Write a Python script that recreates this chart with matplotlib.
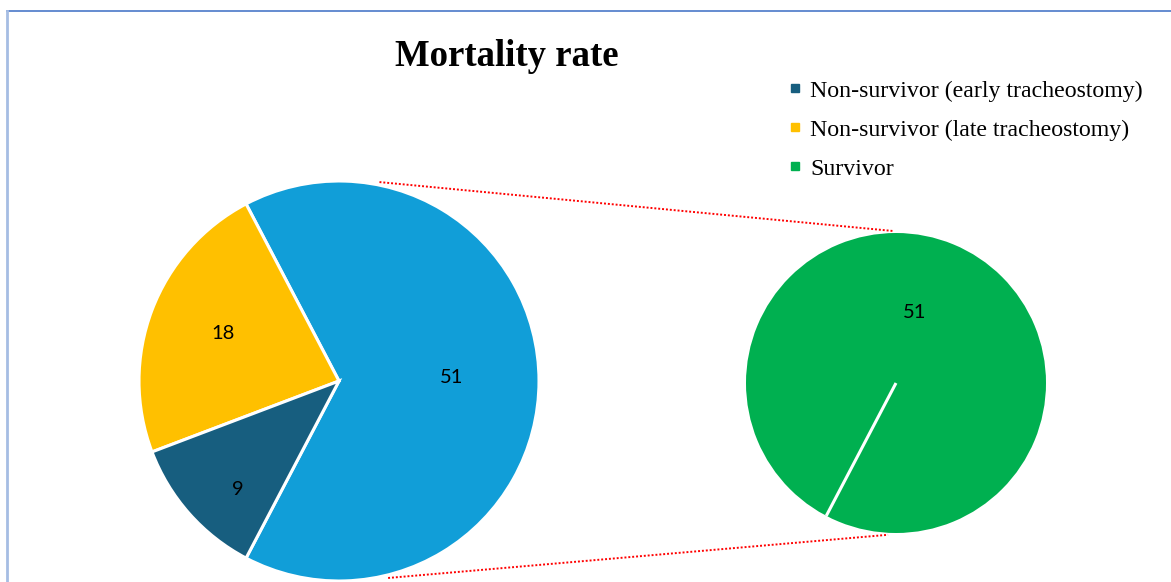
import numpy as np
import matplotlib
matplotlib.use("Agg")
import matplotlib.pyplot as plt
from matplotlib.lines import Line2D

# ---- data ----
main_values = [51, 18, 9]
main_labels = ["51", "18", "9"]
main_colors = ["#119ed8", "#ffc000", "#175e7f"]
sub_values = [51]
sub_labels = ["51"]
sub_colors = ["#00b050"]
legend_labels = ["Non-survivor (early tracheostomy)",
                 "Non-survivor (late tracheostomy)",
                 "Survivor"]
legend_colors = ["#175e7f", "#ffc000", "#00b050"]
title = "Mortality rate"

W, H = 1171, 582
fig = plt.figure(figsize=(W / 100, H / 100), dpi=100)
ax = fig.add_axes([0, 0, 1, 1])

serif = ["Liberation Serif", "DejaVu Serif"]
lblfont = ["Lato", "DejaVu Sans"]

# main pie
c1 = (339, H - 381)
r1 = 200
start = -main_values[0] / sum(main_values) * 180.0
ax.pie(main_values, colors=main_colors, startangle=start,
       center=c1, radius=r1, counterclock=True,
       wedgeprops=dict(edgecolor="white", linewidth=2.2))

# secondary pie
c2 = (896, H - 383)
r2 = 150
ax.pie(sub_values, colors=sub_colors, startangle=start, center=c2, radius=r2,
       wedgeprops=dict(edgecolor="none"))

ax.set_xlim(0, W)
ax.set_ylim(0, H)
ax.set_aspect("equal", adjustable="datalim")
ax.set_position([0, 0, 1, 1])
ax.axis("off")

label_r = [0.565, 0.625, 0.74]
label_ang = [1.8, 157.5, 227.0]
for lab, rr, aa in zip(main_labels, label_r, label_ang):
    a = np.deg2rad(aa)
    ax.text(c1[0] + r1 * rr * np.cos(a), c1[1] + r1 * rr * np.sin(a), lab,
            ha="center", va="center", fontsize=14.5, family=lblfont, color="black")

a = np.deg2rad(start)
ax.plot([c2[0], c2[0] + r2 * np.cos(a)], [c2[1], c2[1] + r2 * np.sin(a)],
        color="white", lw=2.2, solid_capstyle="butt", zorder=5)
a = np.deg2rad(74.8)
ax.text(c2[0] + r2 * 0.485 * np.cos(a), c2[1] + r2 * 0.485 * np.sin(a), sub_labels[0],
        ha="center", va="center", fontsize=14.5, family=lblfont, color="black")

# connector lines
for ang1, ang2 in [(78.5, 91.0), (-76.0, -93.0)]:
    p1 = (c1[0] + (r1 + 3) * np.cos(np.deg2rad(ang1)), c1[1] + (r1 + 3) * np.sin(np.deg2rad(ang1)))
    p2 = (c2[0] + (r2 + 2) * np.cos(np.deg2rad(ang2)), c2[1] + (r2 + 2) * np.sin(np.deg2rad(ang2)))
    ax.plot([p1[0], p2[0]], [p1[1], p2[1]], color="red", lw=1.4,
            linestyle=(0, (1, 1)), zorder=1)

# title
ax.text(507, H - 57, title, ha="center", va="center", fontsize=26.5,
        fontweight="bold", family=serif)

# legend
handles = [Line2D([], [], marker="s", linestyle="", color=c, markersize=5.5)
           for c in legend_colors]
leg = ax.legend(handles, legend_labels, loc="upper left",
                bbox_to_anchor=(789 / W, 1 - 80 / H), frameon=False,
                prop=dict(family=serif, size=17.2), handlelength=0.5,
                handletextpad=0.4, labelspacing=0.72, borderpad=0, borderaxespad=0)

# border
fig.add_artist(Line2D([7 / W, 1], [1 - 10.5 / H, 1 - 10.5 / H], color="#4a78c8", lw=1.2,
                      transform=fig.transFigure))
fig.add_artist(Line2D([7 / W, 7 / W], [0, 1 - 10.5 / H], color="#a6bde3", lw=2.0,
                      transform=fig.transFigure))

fig.savefig("out.png", dpi=100)
